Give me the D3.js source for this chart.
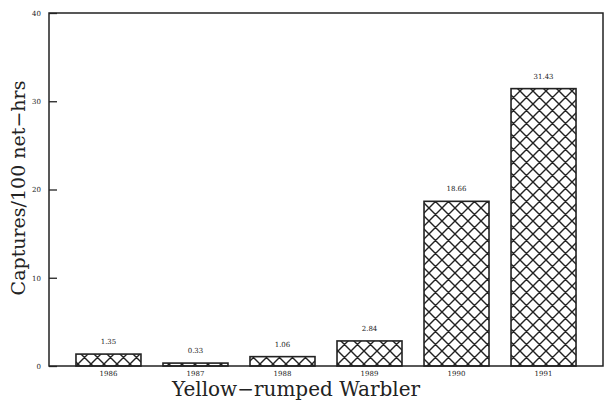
<!DOCTYPE html>
<html>
<head>
<meta charset="utf-8">
<script src="https://cdn.jsdelivr.net/npm/d3@7"></script>
<style>
  body { margin: 0; background: #fff; }
  svg { display: block; }
</style>
</head>
<body>
<svg id="chart" width="605" height="401"></svg>
<script>
const years = ["1986", "1987", "1988", "1989", "1990", "1991"]
const captures = [1.35, 0.33, 1.06, 2.84, 18.66, 31.43]
const valueLabels = ["1.35", "0.33", "1.06", "2.84", "18.66", "31.43"]
const yTicks = [0, 10, 20, 30, 40]

const margin = { top: 13, right: 2, bottom: 35, left: 49 }
const width = 605, height = 401
const ink = "#222"

const svg = d3.select("#chart")

// crosshatch fill
const pat = svg.append("defs").append("pattern")
  .attr("id", "hatch")
  .attr("patternUnits", "userSpaceOnUse")
  .attr("width", 13)
  .attr("height", 13)
pat.append("rect").attr("width", 13).attr("height", 13).attr("fill", "#fff")
pat.append("path")
  .attr("d", "M0,0L13,13M13,0L0,13M-1,12L1,14M12,-1L14,1M-1,1L1,-1M12,14L14,12")
  .attr("stroke", ink)
  .attr("stroke-width", 1.4)

let x = d3.scaleBand()
  .domain(years)
  .range([margin.left, width - margin.right])
  .paddingInner(0.253)
  .paddingOuter(0.31)

let y = d3.scaleLinear()
  .domain([0, 40])
  .range([height - margin.bottom, margin.top])

// bars
svg.selectAll("rect.bar")
  .data(captures)
  .enter()
  .append("rect")
  .attr("class", "bar")
  .attr("x", (d, i) => x(years[i]))
  .attr("y", d => y(d))
  .attr("width", x.bandwidth())
  .attr("height", d => y(0) - y(d))
  .attr("fill", "url(#hatch)")
  .attr("stroke", ink)
  .attr("stroke-width", 1.6)

// value labels above bars
svg.selectAll("text.val")
  .data(captures)
  .enter()
  .append("text")
  .attr("class", "val")
  .attr("x", (d, i) => x(years[i]) + x.bandwidth() / 2)
  .attr("y", d => y(d) - 10)
  .attr("text-anchor", "middle")
  .attr("font-family", "'DejaVu Serif', serif")
  .attr("font-size", 7)
  .attr("fill", ink)
  .text((d, i) => valueLabels[i])

// frame
svg.append("rect")
  .attr("x", margin.left)
  .attr("y", margin.top)
  .attr("width", width - margin.left - margin.right)
  .attr("height", height - margin.top - margin.bottom)
  .attr("fill", "none")
  .attr("stroke", ink)
  .attr("stroke-width", 1.5)

// y axis, ticks pointing inward
let yAxis = d3.axisRight(y)
  .tickValues(yTicks)
  .tickSize(8)
  .tickFormat(d3.format("d"))

let gy = svg.append("g")
  .attr("transform", "translate(" + margin.left + ",0)")
  .call(yAxis)
gy.select(".domain").remove()
gy.selectAll(".tick line").attr("stroke", ink).attr("stroke-width", 1.3)
gy.selectAll(".tick text")
  .attr("x", -8)
  .attr("text-anchor", "end")
  .attr("font-family", "'DejaVu Serif', serif")
  .attr("font-size", 7)
  .attr("fill", ink)

// x axis labels
let xAxis = d3.axisBottom(x).tickSize(0)
let gx = svg.append("g")
  .attr("transform", "translate(0," + y(0) + ")")
  .call(xAxis)
gx.select(".domain").remove()
gx.selectAll(".tick text")
  .attr("y", 5)
  .attr("font-family", "'DejaVu Serif', serif")
  .attr("font-size", 7)
  .attr("fill", ink)

// titles
svg.append("text")
  .attr("x", 296)
  .attr("y", 396)
  .attr("text-anchor", "middle")
  .attr("font-family", "'DejaVu Serif', serif")
  .attr("font-size", 20)
  .attr("fill", ink)
  .text("Yellow\u2212rumped Warbler")

svg.append("text")
  .attr("transform", "translate(25,188) rotate(-90)")
  .attr("text-anchor", "middle")
  .attr("font-family", "'DejaVu Serif', serif")
  .attr("font-size", 19)
  .attr("fill", ink)
  .text("Captures/100 net\u2212hrs")
</script>
</body>
</html>
